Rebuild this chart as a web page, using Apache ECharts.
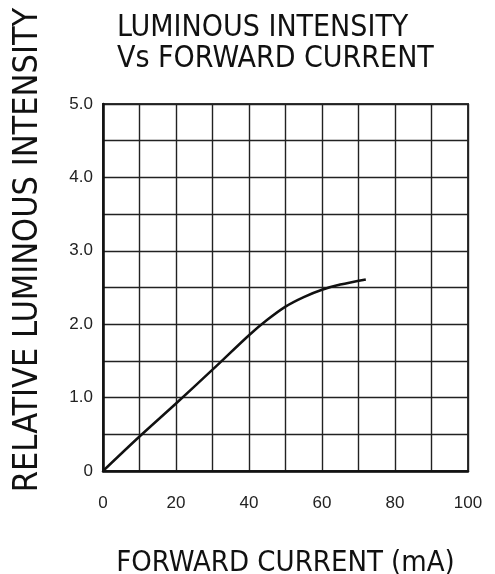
<!DOCTYPE html>
<html>
<head>
<meta charset="utf-8">
<script src="https://cdn.jsdelivr.net/npm/echarts@6/dist/echarts.min.js"></script>
<style>html,body{margin:0;padding:0;background:#fff;}#c{width:495px;height:574px;}</style>
</head>
<body>
<div id="c"></div>
<script>
// Data
const forwardCurrent = [0, 10, 20, 30, 40, 45, 50, 55, 60, 65, 72];          // mA
const relativeIntensity = [0, 0.47, 0.92, 1.38, 1.85, 2.06, 2.24, 2.37, 2.47, 2.54, 2.61];
const xTickLabels = ['0', '20', '40', '60', '80', '100'];
const yTickLabels = ['0', '1.0', '2.0', '3.0', '4.0', '5.0'];
const titleLines = ['LUMINOUS INTENSITY', 'Vs FORWARD CURRENT'];
const xName = 'FORWARD CURRENT (mA)';
const yName = 'RELATIVE LUMINOUS INTENSITY';

const narrow = '"Liberation Sans Narrow", "DejaVu Sans Condensed", "Liberation Sans", sans-serif';
const chart = echarts.init(document.getElementById('c'));
chart.setOption({
  animation: false,
  backgroundColor: '#fff',
  title: {
    text: titleLines.join('\n'),
    left: 112, top: 8,
    textStyle: { fontFamily: narrow, fontSize: 30, fontWeight: 'normal', color: '#111', lineHeight: 31 }
  },
  grid: { left: 103, right: 27, top: 104, bottom: 103, outerBoundsMode: 'none', containLabel: false,
          show: true, borderColor: '#333', borderWidth: 2, backgroundColor: 'transparent' },
  xAxis: {
    type: 'value', min: 0, max: 100, interval: 10,
    name: xName, nameLocation: 'middle', nameGap: 78,
    nameTextStyle: { fontFamily: narrow, fontSize: 29, color: '#111' },
    axisLine: { show: true, lineStyle: { color: '#111', width: 2.5 } },
    axisTick: { show: false },
    splitLine: { show: true, lineStyle: { color: '#222', width: 1.4 } },
    axisLabel: {
      margin: 24, fontFamily: '"Liberation Sans", Arial, sans-serif', fontSize: 17, color: '#222',
      formatter: v => (v % 20 === 0 ? xTickLabels[v / 20] : '')
    }
  },
  yAxis: {
    type: 'value', min: 0, max: 5, interval: 0.5,
    axisLine: { show: true, lineStyle: { color: '#111', width: 2.5 } },
    axisTick: { show: false },
    splitLine: { show: true, lineStyle: { color: '#222', width: 1.4 } },
    axisLabel: {
      margin: 10, fontFamily: '"Liberation Sans", Arial, sans-serif', fontSize: 17, color: '#222',
      formatter: v => (Math.abs(v - Math.round(v)) < 1e-9 ? yTickLabels[Math.round(v)] : '')
    }
  },
  graphic: [{
    type: 'text', x: 28, y: 250, rotation: Math.PI / 2,
    style: { text: yName, fontFamily: narrow, fontSize: 34, fill: '#111', textAlign: 'center', textVerticalAlign: 'middle' }
  }],
  series: [{
    type: 'line', smooth: 0.3, symbol: 'none',
    data: forwardCurrent.map((x, i) => [x, relativeIntensity[i]]),
    lineStyle: { color: '#111', width: 2.5 }
  }]
});
</script>
</body>
</html>
